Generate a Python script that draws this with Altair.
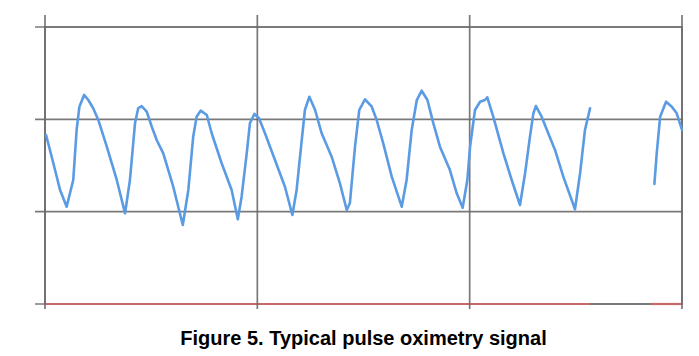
import altair as alt
import pandas as pd

# Pulse signal, segment 1 (time in grid divisions, amplitude in grid divisions)
seg1_x = [0.005, 0.039, 0.071, 0.102, 0.133, 0.149, 0.162, 0.184, 0.204, 0.227, 0.251, 0.291, 0.338, 0.377,
          0.400, 0.424, 0.439, 0.455, 0.479, 0.503, 0.526, 0.557, 0.604, 0.649,
          0.675, 0.698, 0.714, 0.733, 0.762, 0.785, 0.832, 0.879, 0.908,
          0.926, 0.950, 0.965, 0.986, 1.008, 1.036, 1.083, 1.130, 1.165,
          1.185, 1.206, 1.224, 1.245, 1.272, 1.303, 1.350, 1.389, 1.421,
          1.436, 1.460, 1.480, 1.507, 1.539, 1.562, 1.593, 1.633, 1.680,
          1.703, 1.727, 1.751, 1.774, 1.801, 1.829, 1.860, 1.907, 1.939, 1.967,
          1.989, 2.002, 2.025, 2.049, 2.072, 2.083, 2.111, 2.159, 2.198, 2.237,
          2.261, 2.284, 2.300, 2.312, 2.339, 2.370, 2.402, 2.441, 2.496,
          2.520, 2.543, 2.567]
seg1_y = [1.830, 1.527, 1.235, 1.054, 1.343, 1.885, 2.137, 2.264, 2.209, 2.120, 1.993, 1.704, 1.343, 0.982,
          1.343, 1.960, 2.120, 2.144, 2.083, 1.920, 1.776, 1.632, 1.270, 0.856,
          1.235, 1.812, 2.029, 2.094, 2.047, 1.849, 1.524, 1.235, 0.917,
          1.162, 1.632, 1.957, 2.058, 2.011, 1.849, 1.560, 1.270, 0.964,
          1.235, 1.704, 2.101, 2.245, 2.101, 1.849, 1.595, 1.307, 1.018,
          1.094, 1.704, 2.101, 2.217, 2.137, 1.993, 1.740, 1.379, 1.054,
          1.343, 1.885, 2.209, 2.310, 2.209, 1.957, 1.704, 1.451, 1.199, 1.043,
          1.343, 1.704, 2.101, 2.191, 2.209, 2.239, 2.029, 1.632, 1.343, 1.072,
          1.416, 1.812, 2.065, 2.144, 2.029, 1.849, 1.668, 1.379, 1.026,
          1.416, 1.885, 2.120]

# Pulse signal, segment 2 (after the gap)
seg2_x = [2.870, 2.881, 2.897, 2.925, 2.952, 2.975, 3.000]
seg2_y = [1.300, 1.632, 2.029, 2.191, 2.137, 2.065, 1.885]

# Red baseline segments
red_x = [0.0, 2.567, 2.855, 3.0]
red_y = [0.0, 0.0, 0.0, 0.0]
red_seg = ["a", "a", "b", "b"]

# Grid line positions and how far the lines overhang the plot area
grid_x = [0.0, 1.0, 2.0, 3.0]
grid_y = [0.0, 1.0, 2.0, 3.0]
v_ext = [-0.054, 3.13]   # vertical lines poke out below/above the frame
h_ext = [-0.047, 3.003]  # horizontal lines poke out to the left

sig = pd.DataFrame({
    "t": seg1_x + seg2_x,
    "v": seg1_y + seg2_y,
    "seg": ["s1"] * len(seg1_x) + ["s2"] * len(seg2_x),
})
red = pd.DataFrame({"t": red_x, "v": red_y, "seg": red_seg})

vgrid = pd.DataFrame([{"t": float(g), "v": float(e), "seg": f"v{i}"}
                      for i, g in enumerate(grid_x) for e in v_ext])
hgrid = pd.DataFrame([{"t": float(e), "v": float(g), "seg": f"h{i}"}
                      for i, g in enumerate(grid_y) for e in h_ext])

grid_color = "#6a6a6a"

xscale = alt.Scale(domain=[0, 3], nice=False, zero=False)
yscale = alt.Scale(domain=[0, 3], nice=False, zero=False)


def enc(ch):
    return ch.encode(
        x=alt.X("t:Q", scale=xscale, axis=None),
        y=alt.Y("v:Q", scale=yscale, axis=None),
        detail="seg:N",
    )


hlines = enc(alt.Chart(hgrid).mark_line(color=grid_color, strokeWidth=1.7, opacity=0.9, clip=False))
vlines = enc(alt.Chart(vgrid).mark_line(color=grid_color, strokeWidth=1.7, opacity=0.9, clip=False))
red_layer = enc(alt.Chart(red).mark_line(color="#c86868", strokeWidth=2.2, clip=False))
sig_layer = enc(alt.Chart(sig).mark_line(color="#5b9be4", strokeWidth=2.6, strokeJoin="round",
                                         strokeCap="round", clip=False))

chart = alt.layer(hlines, red_layer, vlines, sig_layer).properties(
    width=637, height=277,
    autosize=alt.AutoSizeParams(type="none"),
    padding={"left": 45, "top": 27, "right": 17, "bottom": 52},
    title=alt.TitleParams(text="Figure 5. Typical pulse oximetry signal", orient="bottom",
                          anchor="middle", font="Liberation Sans", fontSize=20,
                          fontWeight="bold", color="#000000", offset=17),
    background="white",
).configure_view(stroke=grid_color, strokeWidth=1.7, strokeOpacity=0.9)

chart.save("out.html", embed_options={"renderer": "svg", "actions": False})
